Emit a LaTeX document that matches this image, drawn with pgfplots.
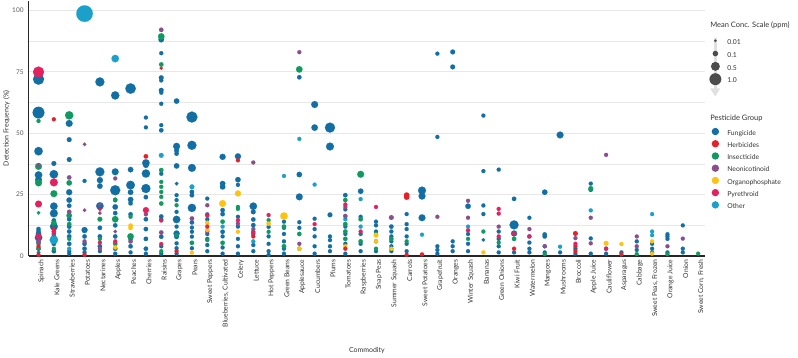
\documentclass[border=0pt]{standalone}
\usepackage{fontspec}
\setmainfont{Lato}
\usepackage{pgfplots}
\usepackage{pgfplotstable}
\pgfplotsset{compat=1.18}
\usetikzlibrary{arrows.meta}

\definecolor{cF}{HTML}{136FA3}
\definecolor{cH}{HTML}{E4202C}
\definecolor{cI}{HTML}{109A60}
\definecolor{cN}{HTML}{8A4E8C}
\definecolor{cY}{HTML}{FFC20F}
\definecolor{cP}{HTML}{E2225E}
\definecolor{cO}{HTML}{1BA0C9}
\definecolor{txt}{HTML}{333333}

\pgfplotstableread{
x y r
0 72 5.3
0 58.4 5.6
0 42.7 4.0
0 33 3.5
0 31 3.2
0 11 2
0 10 2
0 9 2.5
0 7.5 3.5
0 5.5 2
0 3 2
0 1.5 1.6
1 37.7 2.2
1 33.3 4.0
1 20.3 3.5
1 17.4 3.7
1 14.5 2
1 12 3.7
1 8 2
1 5 2
1 2 2
2 54 3.2
2 47.4 2.2
2 39.3 2.2
2 26 2.8
2 22.8 2.5
2 20.5 2
2 15 2
2 12 2
2 10 2
2 8 2
2 5 2
2 2 1.8
2 1 1.8
3 30.6 1.8
3 10.6 2.8
3 8 2
3 5 2
3 3 2
3 1.5 1.8
4 70.9 4.3
4 34.3 4.3
4 30.9 2.8
4 28.5 2.5
4 20.4 3.5
4 11.5 2
4 8 2
4 4 2
4 2 1.8
5 65.4 3.9
5 34.3 3.2
5 26.8 4.8
5 22.8 2
5 20 2.5
5 17.5 2
5 12.5 2
5 8 2
5 3 2
5 1 1.8
6 68.2 5.0
6 35.2 2.5
6 28.9 4.1
6 26 2.5
6 23 2.5
6 21.5 2
6 17 2
6 7 2
6 4 2
6 1.5 1.8
7 56.4 1.8
7 52.4 1.8
7 37.9 3.5
7 37 2.5
7 33.6 3.9
7 27.5 4.3
7 24 2
7 15 2
7 11 2
7 7 2
7 3 2
7 1 1.8
8 88.1 2.5
8 82.6 1.8
8 72.6 2.2
8 71.5 1.8
8 67.5 2.2
8 66.5 1.8
8 62 1.8
8 53.3 1.8
8 51.2 2
8 33.5 1.8
8 16.1 2
8 15 1.8
8 7.9 2
8 4 1.8
8 1 1.8
9 63.1 2.5
9 44.7 3.2
9 43 2.2
9 41.7 2
9 36.7 2.5
9 29.5 1.6
9 24.8 1.8
9 22.8 1.8
9 18 1.8
9 14.9 3.5
9 12 1.8
9 9.2 2.8
9 7.9 2.2
9 5.2 1.8
9 3.2 1.8
9 1 1.8
10 56.6 5.3
10 45.1 4.3
10 35.9 3.7
10 26.1 2
10 24.8 2
10 19.6 3.9
10 13.7 2
10 11.6 1.8
10 9.9 1.8
10 7.9 1.8
10 3.2 1.8
11 23.4 1.8
11 17 1.8
11 15 1.8
11 9 1.8
11 7 1.8
11 4.5 1.8
11 2 1.8
12 40.4 2.8
12 29.5 2.5
12 28.2 2.5
12 18.7 2
12 17.1 2
12 9.9 2
12 8 1.8
12 3.5 1.8
12 1 1.8
13 40.6 2.8
13 31.1 2.5
13 29 1.8
13 16 1.8
13 12 1.8
13 7 1.8
13 4 1.8
13 1 1.8
14 20.3 3.5
14 18 2.2
14 14.9 2
14 12.6 2
14 9 1.8
14 4.5 1.8
14 2 1.8
15 11.9 1.8
15 8 1.8
15 5 1.8
15 2 1.8
15 0.5 1.8
16 14 1.8
16 11.5 1.8
16 9 1.8
16 6 1.8
16 3 1.8
16 1 1.8
17 72.8 2
17 33.2 2.5
17 24.1 3.2
17 13.8 1.8
17 11.5 1.8
17 3 1.8
18 61.7 3.2
18 52.3 3
18 15.2 1.8
18 11 1.8
18 8 1.8
18 4 1.8
18 1 1.8
19 52.3 4.8
19 44.6 3.7
19 16.8 2.2
19 8 1.8
19 6.5 1.8
19 4 1.8
19 2 1.8
20 24.8 2
20 19 1.8
20 12 1.8
20 9 1.8
20 5 1.8
20 1 1.8
21 26.4 2.5
21 16 1.8
21 9 1.8
21 5 1.8
21 2 1.8
22 14 1.8
22 12.5 1.8
22 10 1.8
22 6 1.8
22 2 1.8
23 12 2
23 10 1.8
23 8 1.8
23 6 1.8
23 4 1.8
23 2 1.8
24 17.1 1.8
24 13 1.8
24 11 1.8
24 8 1.8
24 5 1.8
24 2 1.8
25 26.7 3.7
25 24.4 3.2
25 15.6 3.2
26 82.4 1.8
26 48.5 1.8
26 4 1.8
26 2.5 1.8
26 1 1.8
27 83.1 2.2
27 77 2.2
27 6 1.8
27 4 1.8
27 2 1.8
28 20.3 2.5
28 9 1.8
28 5 1.8
28 2 1.8
29 57.2 1.8
29 34.6 1.8
29 20.6 1.8
29 17.1 1.8
29 6.6 1.6
30 35.2 1.8
30 10 1.8
30 7 1.8
30 4 1.8
30 1.5 1.8
31 23.3 2
31 12.7 4.3
31 9.2 2.8
31 1.5 1.8
32 15.6 1.8
32 8 1.8
32 5.5 1.8
32 3 1.8
32 1.5 1.8
33 26 2.5
33 8.8 2
33 8 2
33 4 1.8
33 1.5 1.8
34 49.3 3.2
34 1.5 1.8
35 3 1.8
35 1 1.8
36 29.5 1.8
36 27 2
36 7.2 1.8
36 1 1.8
37 3 1.8
37 1 1.8
38 1.5 1.8
39 6 1.8
39 2.5 1.8
40 5 1.8
40 3 1.8
40 1.5 1.8
41 8.9 1.8
41 8 1.8
41 7 1.8
41 1.5 1.8
42 12.5 1.8
42 3 1.8
42 1.5 1.8
}\tabF

\pgfplotstableread{
x y r
3 98.7 8.0
5 80.4 3.5
1 6.6 4
2 3 1.8
8 41 2.2
10 28.2 2.2
12 12 1.8
14 6 1.8
16 32.6 1.8
17 47.7 1.8
18 29.1 1.8
20 15 1.8
21 23.2 1.8
21 12 1.8
25 8.7 1.8
28 12 1.8
34 3.8 1.8
36 18.6 1.8
40 17.1 1.8
40 10 1.8
40 8.5 1.8
}\tabO

\pgfplotstableread{
x y r
0 55 1.8
0 36.5 3.2
0 29.8 3.2
0 17.6 1.6
0 5 1.8
0 3 1.8
1 25.4 3.2
1 13.5 2.5
1 3 1.8
2 57.3 3.9
2 29.8 2.5
2 16.5 2.5
2 13 2
2 7 1.8
4 15 2.2
4 7 1.8
5 23 1.8
5 15 3
5 5 2
6 16 1.8
6 8 3
8 89.4 3
8 78 2
8 35 2
8 30.2 1.8
8 28.2 1.8
8 26.1 1.8
8 24.1 1.8
8 21.4 2
8 2 1.8
9 20.7 1.8
9 8.5 1.8
10 5.4 2
11 6.5 1.8
12 14 2
12 5.4 2
13 20 1.8
13 19.2 1.8
14 10 1.8
15 14.6 1.8
15 9.9 1.8
16 12 2
16 4 2
17 76 3
17 9 2
20 22.8 2
20 13 2
20 10 2
20 7 2
21 33.3 3.2
21 15 2
21 6 2
22 9 1.8
22 3 1.8
23 7 2
23 3 1.8
24 6 1.8
28 7 1.8
29 10 1.8
30 5.5 1.8
31 7 2
33 0.8 1.8
36 27.5 2.2
39 0.8 1.8
41 0.8 1.8
43 1 1.8
}\tabI

\pgfplotstableread{
x y r
0 37 1.8
0 6 2
1 9 2
2 32 2
2 18 2
3 45.5 1.6
3 18.7 1.6
3 6 1.8
4 21 1.6
4 17.5 1.6
4 3 1.8
5 31.6 1.8
5 10 1.6
6 6 2
7 17 1.8
8 92.1 2
8 9.6 2
10 15.3 2
11 20.7 1.8
11 10 1.8
13 13.2 1.8
14 38.1 1.8
14 11 1.8
17 83 1.8
17 5 1.8
20 16.3 2
20 20 1.8
23 15.7 2.2
26 16 1.8
28 22.5 1.8
28 15.6 1.8
30 12 1.8
32 11 1.8
33 4 1.8
35 7.3 1.8
36 15.6 1.8
36 5.2 1.8
37 41.2 1.8
39 8 1.8
39 4 1.8
41 4 1.8
42 7.1 1.8
}\tabN

\pgfplotstableread{
x y r
5 3.5 1.8
6 12.4 2
6 11.5 2
10 1.4 1.8
11 13.5 2
11 10.6 1.8
12 21.4 3.2
13 25.5 2.8
13 9.9 1.8
15 13.2 2
16 16.3 3.5
17 3 2
20 4 1.8
22 8.5 2.2
22 6 1.8
23 3 1.8
29 1.5 1.8
37 5.2 2.2
38 4.9 1.8
40 6 1.8
40 1 1.8
}\tabY

\pgfplotstableread{
x y r
0 0.5 1.8
0 4 1.8
1 55.7 1.8
1 11 1.8
3 0.5 1.8
7 40.6 2
8 76.5 1.5
9 2 1.8
13 39 1.8
14 8 1.8
20 3 1.8
24 24.8 2.5
24 24 2.5
24 0.5 1.8
25 0.7 1.8
31 3 1.8
35 9.2 2.2
35 4 1.8
35 2 1.8
38 0.7 1.8
}\tabH

\pgfplotstableread{
x y r
0 74.9 5.3
0 21.2 3.2
0 8 2.5
1 30 3.7
1 10 2
4 19 1.6
4 5.5 1.8
5 6 1.8
7 18.7 2.8
8 14.5 1.8
8 4.9 1.8
11 16.5 1.8
11 12 1.8
13 14.6 1.8
14 9.5 1.8
15 16.7 1.8
18 13 1.8
20 21 1.8
21 10 1.8
22 20 1.8
28 10.5 1.8
30 19.2 1.8
30 17.3 1.8
30 8 1.8
31 9.2 1.8
32 8 1.8
35 5 1.8
37 3 1.8
}\tabP

\pgfplotsset{
  grp/.style={scatter, only marks, mark=*, point meta=explicit,
    scatter/use mapped color={draw=#1, fill=#1, line width=0.1pt},
    visualization depends on={\thisrow{r}+0.25\as\rad},
    scatter/@pre marker code/.append style={/tikz/mark size=\rad},
    forget plot},
  legfont/.style={font=\fontsize{6.8}{7}\selectfont, text=txt},
  dot/.style n args={2}{legend image code/.code={%
    \path[use as bounding box, draw=none, fill=none] (0pt,-1.5pt) rectangle (17.5pt,6pt);
    \fill[#1, draw=none] (7pt,2pt) circle (#2);}}
}

\begin{document}
\begin{tikzpicture}
% decorative arrow of size legend
\draw[black!12, line width=3pt] (688pt,219pt) -- (688pt,167pt);
\fill[black!12] (683pt,168pt) -- (693pt,168pt) -- (688pt,160pt) -- cycle;

\begin{axis}[
  scale only axis, width=678pt, height=256pt,
  xmin=-0.65, xmax=43.46, ymin=0, ymax=104,
  clip=false,
  axis x line*=bottom, axis y line*=left,
  axis line style={draw=black!85, line width=1.2pt, -},
  ytick={0,25,50,75,100}, minor ytick={12.5,37.5,62.5,87.5},
  ymajorgrids, yminorgrids,
  major grid style={draw=black!9, line width=0.7pt},
  minor grid style={draw=black!9, line width=0.7pt},
  major tick length=0pt, minor tick length=0pt,
  /pgf/number format/assume math mode=true,
  yticklabel style={font=\fontsize{6.5}{7}\selectfont, text=black!65, xshift=-1.5pt},
  xtick={0,...,43},
  xticklabels={Spinach, Kale Greens, Strawberries, Potatoes, Nectarines, Apples, Peaches, Cherries, Raisins, Grapes, Pears, Sweet Peppers, {Blueberries, Cultivated}, Celery, Lettuce, Hot Peppers, Green Beans, Applesauce, Cucumbers, Plums, Tomatoes, Raspberries, Snap Peas, Summer Squash, Carrots, Sweet Potatoes, Grapefruit, Oranges, Winter Squash, Bananas, Green Onions, Kiwi Fruit, Watermelon, Mangoes, Mushrooms, Broccoli, Apple Juice, Cauliflower, Asparagus, Cabbage, {Sweet Peas, Frozen}, Orange Juice, Onion, {Sweet Corn, Fresh}},
  xticklabel style={rotate=90, anchor=east, font=\fontsize{6.8}{7}\selectfont, text=txt, yshift=-3pt},
  xlabel={Commodity},
  xlabel style={at={(axis description cs:0.5,0)}, anchor=center, yshift=-95pt, font=\fontsize{7}{8}\selectfont, text=txt},
  ylabel={Detection Frequency (\%)},
  ylabel style={at={(axis description cs:-0.0324,0.5)}, anchor=center, font=\fontsize{7}{8}\selectfont, text=txt},
  legend style={at={(1,1)}, anchor=north west, xshift=3pt, yshift=-127pt,
    draw=none, fill=none, legfont, row sep=1.5pt, inner sep=0pt,
    nodes={inner sep=1.5pt, text height=5pt, text depth=1.5pt}},
  legend cell align=left,
]
\addplot[grp=cF] table[x=x,y=y,meta=r] \tabF;
\addplot[grp=cO] table[x=x,y=y,meta=r] \tabO;
\addplot[grp=cI] table[x=x,y=y,meta=r] \tabI;
\addplot[grp=cN] table[x=x,y=y,meta=r] \tabN;
\addplot[grp=cY] table[x=x,y=y,meta=r] \tabY;
\addplot[grp=cH] table[x=x,y=y,meta=r] \tabH;
\addplot[grp=cP] table[x=x,y=y,meta=r] \tabP;

\addlegendimage{dot={cF}{3.7pt}}
\addlegendentry{Fungicide}
\addlegendimage{dot={cH}{3.7pt}}
\addlegendentry{Herbicides}
\addlegendimage{dot={cI}{3.7pt}}
\addlegendentry{Insecticide}
\addlegendimage{dot={cN}{3.7pt}}
\addlegendentry{Neonicotinoid}
\addlegendimage{dot={cY}{3.7pt}}
\addlegendentry{Organophosphate}
\addlegendimage{dot={cP}{3.7pt}}
\addlegendentry{Pyrethroid}
\addlegendimage{dot={cO}{3.7pt}}
\addlegendentry{Other}
\end{axis}

\begin{axis}[
  scale only axis, width=678pt, height=256pt, hide axis,
  xmin=0, xmax=1, ymin=0, ymax=1,
  legend style={at={(1,1)}, anchor=north west, xshift=3pt, yshift=-36pt,
    draw=none, fill=none, legfont, row sep=2.1pt, inner sep=0pt,
    nodes={inner sep=1.5pt, text height=5pt, text depth=1.5pt}},
  legend cell align=left,
]
\addlegendimage{dot={black!70}{1.5pt}}
\addlegendentry{0.01}
\addlegendimage{dot={black!70}{2.8pt}}
\addlegendentry{0.1}
\addlegendimage{dot={black!70}{4.5pt}}
\addlegendentry{0.5}
\addlegendimage{dot={black!70}{6pt}}
\addlegendentry{1.0}
\end{axis}

\node[anchor=west, font=\fontsize{7.5}{8}\selectfont, text=txt, inner sep=0pt] at (683pt,231pt) {Mean Conc. Scale (ppm)};
\node[anchor=west, font=\fontsize{7.5}{8}\selectfont, text=txt, inner sep=0pt] at (683pt,138pt) {Pesticide Group};

\path (-27pt,-101pt) rectangle (771pt,256pt);
\end{tikzpicture}
\end{document}
